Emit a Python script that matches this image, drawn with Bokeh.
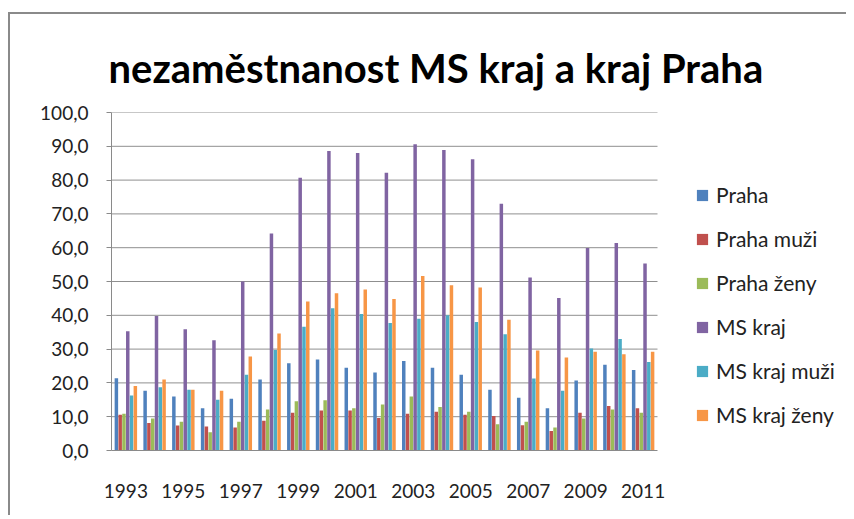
from bokeh.plotting import figure
from bokeh.models import ColumnDataSource, Legend, LegendItem, Title, CustomJSTickFormatter, FixedTicker, Range1d
from bokeh.transform import dodge
from bokeh.embed import file_html
from bokeh.resources import INLINE

years = list(range(1993, 2012))
praha = [21.4, 17.7, 16.0, 12.5, 15.3, 21.0, 25.8, 26.9, 24.5, 23.1, 26.5, 24.5, 22.4, 18.0, 15.6, 12.5, 20.7, 25.4, 23.8]
praha_muzi = [10.6, 8.1, 7.4, 7.1, 6.8, 8.8, 11.2, 11.8, 11.8, 9.6, 10.9, 11.5, 10.6, 10.2, 7.5, 5.8, 11.2, 13.2, 12.5]
praha_zeny = [10.9, 9.5, 8.5, 5.4, 8.5, 12.1, 14.6, 14.9, 12.5, 13.6, 16.0, 12.9, 11.5, 7.8, 8.5, 6.8, 9.5, 12.1, 11.2]
ms_kraj = [35.3, 39.8, 35.9, 32.6, 50.0, 64.2, 80.7, 88.6, 88.0, 82.2, 90.6, 88.9, 86.2, 73.0, 51.2, 45.1, 59.9, 61.4, 55.3]
ms_muzi = [16.3, 18.7, 18.0, 15.0, 22.4, 29.7, 36.6, 42.1, 40.4, 37.7, 39.0, 40.0, 38.0, 34.4, 21.3, 17.7, 30.2, 33.0, 26.2]
ms_zeny = [19.1, 21.0, 18.0, 17.7, 27.8, 34.6, 44.1, 46.5, 47.6, 44.8, 51.6, 48.9, 48.2, 38.7, 29.6, 27.5, 29.2, 28.5, 29.2]
series_names = ["Praha", "Praha muži", "Praha ženy", "MS kraj", "MS kraj muži", "MS kraj ženy"]
series_keys = ["praha", "praha_muzi", "praha_zeny", "ms_kraj", "ms_muzi", "ms_zeny"]
colors = ["#4F81BD", "#C0504D", "#9BBB59", "#8064A2", "#4BACC6", "#F79646"]
x_tick_labels = [1993, 1995, 1997, 1999, 2001, 2003, 2005, 2007, 2009, 2011]
y_ticks = [0, 10, 20, 30, 40, 50, 60, 70, 80, 90, 100]

source = ColumnDataSource(dict(year=years, praha=praha, praha_muzi=praha_muzi, praha_zeny=praha_zeny,
                               ms_kraj=ms_kraj, ms_muzi=ms_muzi, ms_zeny=ms_zeny))

FONT = "Lato"
# layout (pixels): bar area is 546 px wide inside a 732 px frame; the rest holds the legend
x_start = years[0] - 0.5
x_stop = years[-1] + 0.5
cat_px = 546 / len(years)
frame_px = 732
x_range = Range1d(x_start, x_start + frame_px / cat_px)

p = figure(width=838, height=503, output_backend="svg", toolbar_location=None,
           x_range=x_range, y_range=Range1d(0, 100),
           min_border_left=101, min_border_right=5, min_border_top=98, min_border_bottom=67)
p.styles = {"border-left": "2px solid #8a8a8a", "border-top": "2px solid #8a8a8a",
            "margin-top": "12px", "margin-left": "8px"}
p.outline_line_color = None
p.background_fill_color = "white"
p.border_fill_color = "white"

# horizontal gridlines limited to the bar area
grid_src = ColumnDataSource(dict(y=y_ticks[1:]))
p.segment(x0=x_start, x1=x_stop, y0="y", y1="y", source=grid_src, line_color="#8f8f8f", line_width=1)

bw = 0.132
renderers = []
for i, (k, c) in enumerate(zip(series_keys, colors)):
    r = p.vbar(x=dodge("year", (i - 2.5) * bw, range=p.x_range), top=k, width=bw * 0.92,
               source=source, fill_color=c, line_color=None)
    renderers.append(r)

p.title = Title(text="nezaměstnanost MS kraj a kraj Praha", align="left", text_font=FONT,
                text_font_size="40px", text_font_style="bold", text_color="black",
                text_baseline="alphabetic", offset=-3, standoff=42)

p.xgrid.grid_line_color = None
p.ygrid.grid_line_color = None

p.yaxis.ticker = FixedTicker(ticks=y_ticks)
p.yaxis.formatter = CustomJSTickFormatter(code="return tick.toFixed(1).replace('.', ',');")
p.yaxis.axis_line_color = "#8a8a8a"
p.yaxis.major_tick_line_color = "#8a8a8a"
p.yaxis.major_tick_out = 5
p.yaxis.major_tick_in = 0
p.yaxis.minor_tick_line_color = None
p.yaxis.major_label_standoff = 18
p.yaxis.major_label_text_font = FONT
p.yaxis.major_label_text_font_size = "19px"
p.yaxis.major_label_text_color = "#222222"

p.xaxis.bounds = (x_start, x_stop)
p.xaxis.ticker = FixedTicker(ticks=x_tick_labels)
p.xaxis.axis_line_color = "#8a8a8a"
p.xaxis.major_tick_line_color = None
p.xaxis.minor_tick_line_color = None
p.xaxis.major_tick_out = 0
p.xaxis.major_label_standoff = 33
p.xaxis.major_label_text_font = FONT
p.xaxis.major_label_text_font_size = "19px"
p.xaxis.major_label_text_color = "#222222"

legend = Legend(items=[LegendItem(label=n, renderers=[r]) for n, r in zip(series_names, renderers)],
                location=(584, 23), padding=0, margin=0, border_line_color=None,
                background_fill_alpha=0, glyph_width=14, glyph_height=14, label_height=20,
                spacing=19, label_text_font=FONT, label_text_font_size="21px",
                label_text_color="#222222", label_standoff=7)
p.add_layout(legend, "center")

open("out.html", "w").write(file_html(p, INLINE))
